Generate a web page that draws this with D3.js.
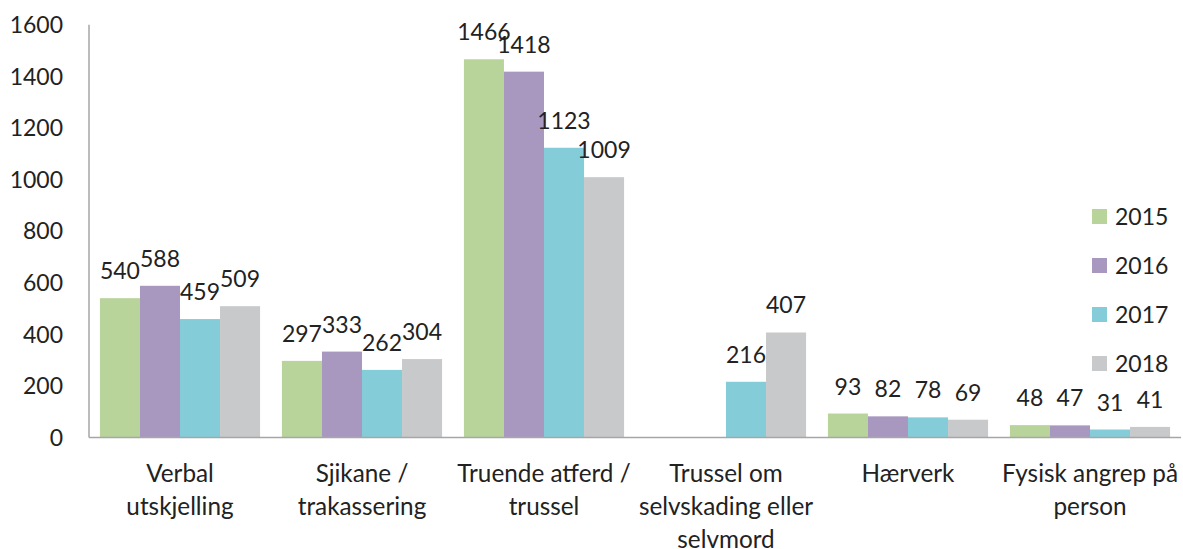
<!DOCTYPE html>
<html><head><meta charset="utf-8">
<script src="https://cdn.jsdelivr.net/npm/d3@7"></script>
<style>body{margin:0;background:#fff}svg{display:block}text{font-family:Lato,"Open Sans",sans-serif;fill:#222}</style>
</head><body>
<svg id="c" width="1183" height="549"></svg>
<script>
const categories = [["Verbal","utskjelling"],["Sjikane /","trakassering"],["Truende atferd /","trussel"],["Trussel om","selvskading eller","selvmord"],["Hærverk"],["Fysisk angrep på","person"]];
const years = ["2015","2016","2017","2018"];
const v2015 = [540,297,1466,null,93,48];
const v2016 = [588,333,1418,null,82,47];
const v2017 = [459,262,1123,216,78,31];
const v2018 = [509,304,1009,407,69,41];
const yTicks = [0,200,400,600,800,1000,1200,1400,1600];
const colors = ["#b8d49b","#a898c0","#83ccd8","#c8c9cb"];

const series = [v2015,v2016,v2017,v2018];
const svg = d3.select("#c");
const fs = 23, fsCat = 24.3;
const x0 = d3.scaleBand().domain(d3.range(categories.length)).range([89,1181]).paddingInner(0.12).paddingOuter(0.06);
const x1 = d3.scaleBand().domain(years).range([0,x0.bandwidth()]);
const y = d3.scaleLinear().domain([0,1600]).range([437.5,24.7]);
const color = d3.scaleOrdinal().domain(years).range(colors);

// y tick labels
svg.append("g").selectAll("text").data(yTicks).join("text")
  .attr("x",63).attr("y",d=>y(d)).attr("dy","0.36em").attr("text-anchor","end")
  .attr("font-size",fs).text(d=>d);

// bars
const g = svg.append("g").selectAll("g").data(categories.map((c,i)=>i)).join("g")
  .attr("transform",i=>`translate(${x0(i)},0)`);
const cells = g.selectAll("g").data(i=>years.map((yr,j)=>({yr,v:series[j][i]})).filter(d=>d.v!=null)).join("g");
cells.append("rect").attr("x",d=>x1(d.yr)).attr("width",x1.bandwidth())
  .attr("y",d=>y(d.v)).attr("height",d=>y(0)-y(d.v)).attr("fill",d=>color(d.yr));
cells.append("text").attr("x",d=>x1(d.yr)+x1.bandwidth()/2).attr("y",d=>y(d.v)-19)
  .attr("text-anchor","middle").attr("font-size",fs).text(d=>d.v);

// axes lines
svg.append("line").attr("x1",89).attr("x2",89).attr("y1",y(1600)).attr("y2",y(0)).attr("stroke","#a6a6a6").attr("stroke-width",1.5);
svg.append("line").attr("x1",89).attr("x2",1181).attr("y1",y(0)).attr("y2",y(0)).attr("stroke","#a6a6a6").attr("stroke-width",1.5);

// category labels
svg.append("g").selectAll("text").data(categories).join("text")
  .attr("text-anchor","middle").attr("font-size",fsCat)
  .each(function(lines,i){
    d3.select(this).selectAll("tspan").data(lines).join("tspan")
      .attr("x",x0(i)+x0.bandwidth()/2).attr("y",(d,k)=>482+k*33).text(d=>d);
  });

// legend
const lg = svg.append("g").selectAll("g").data(years).join("g")
  .attr("transform",(d,i)=>`translate(1092,${209+i*49})`);
lg.append("rect").attr("width",15).attr("height",15).attr("fill",d=>color(d));
lg.append("text").attr("x",23).attr("y",16).attr("font-size",fs).text(d=>d);
</script>
</body></html>
